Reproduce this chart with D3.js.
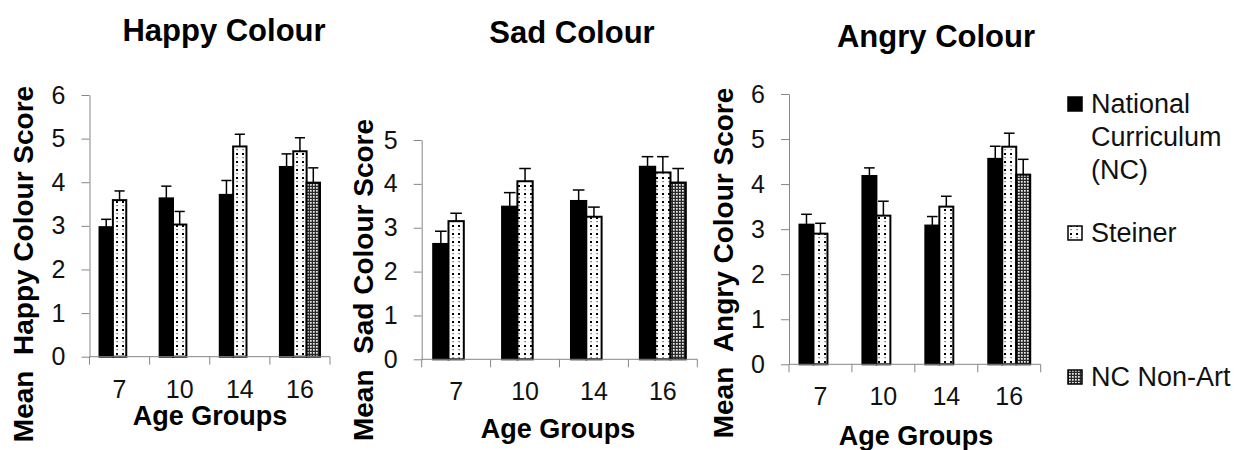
<!DOCTYPE html>
<html>
<head>
<meta charset="utf-8">
<script src="https://cdn.jsdelivr.net/npm/d3@7"></script>
<style>
  html, body { margin: 0; padding: 0; background: #fff; }
  svg { display: block; font-family: "Liberation Sans", Arial, sans-serif; }
</style>
</head>
<body>
<svg id="chart" width="1238" height="450"></svg>
<script>
// Age groups on the x axis and the three school groups
const ageGroups = ["7", "10", "14", "16"];
const seriesKeys = ["nc", "steiner", "nonart"];
const legendLabels = [["National", "Curriculum", "(NC)"], ["Steiner"], ["NC Non-Art"]];

// Happy colour: means and standard errors
const happyNC = [2.97, 3.63, 3.71, 4.35];
const happyNCErr = [0.18, 0.28, 0.33, 0.30];
const happySteiner = [3.59, 3.03, 4.82, 4.71];
const happySteinerErr = [0.21, 0.30, 0.28, 0.31];
const happyNonArt = [null, null, null, 3.99];
const happyNonArtErr = [null, null, null, 0.34];

// Sad colour
const sadNC = [2.63, 3.48, 3.61, 4.39];
const sadNCErr = [0.29, 0.32, 0.25, 0.23];
const sadSteiner = [3.15, 4.06, 3.25, 4.26];
const sadSteinerErr = [0.18, 0.29, 0.22, 0.36];
const sadNonArt = [null, null, null, 4.03];
const sadNonArtErr = [null, null, null, 0.32];

// Angry colour
const angryNC = [3.10, 4.18, 3.08, 4.56];
const angryNCErr = [0.23, 0.18, 0.20, 0.28];
const angrySteiner = [2.90, 3.30, 3.50, 4.83];
const angrySteinerErr = [0.23, 0.32, 0.23, 0.30];
const angryNonArt = [null, null, null, 4.21];
const angryNonArtErr = [null, null, null, 0.34];

// Y axis tick labels per panel
const happyTicks = [0, 1, 2, 3, 4, 5, 6];
const sadTicks = [0, 1, 2, 3, 4, 5];
const angryTicks = [0, 1, 2, 3, 4, 5, 6];

const svg = d3.select("#chart");
const defs = svg.append("defs");

// Sparse dot fill for Steiner bars
const dots = defs.append("pattern").attr("id", "dots")
  .attr("patternUnits", "userSpaceOnUse").attr("width", 6).attr("height", 8);
dots.append("rect").attr("width", 6).attr("height", 8).attr("fill", "#fff");
dots.append("rect").attr("x", 2).attr("y", 1).attr("width", 2).attr("height", 2).attr("fill", "#000");
dots.append("rect").attr("x", 2.5).attr("y", 5).attr("width", 1.2).attr("height", 1.2).attr("fill", "#444");

// Fine mesh fill for NC Non-Art bars
const mesh = defs.append("pattern").attr("id", "mesh")
  .attr("patternUnits", "userSpaceOnUse").attr("width", 3).attr("height", 3);
mesh.append("rect").attr("width", 3).attr("height", 3).attr("fill", "#2a2a2a");
mesh.append("rect").attr("x", 1).attr("y", 1).attr("width", 1.7).attr("height", 1.7).attr("fill", "#eee");

const fills = { nc: "#000", steiner: "url(#dots)", nonart: "url(#mesh)" };
const axisGrey = "#868686";

function drawPanel(p) {
  const g = svg.append("g");
  const x = d3.scaleBand().domain(ageGroups).range([p.left, p.right]).paddingInner(0).paddingOuter(0);
  const xs = d3.scaleBand().domain(seriesKeys).range([0, x.bandwidth()]).paddingInner(0).paddingOuter(0.75);
  const y = d3.scaleLinear().domain([0, p.max]).range([p.bottom, p.top]);

  const rows = [];
  ageGroups.forEach((a, i) => {
    seriesKeys.forEach((k, j) => {
      const v = p.values[j][i];
      if (v != null) rows.push({ age: a, key: k, v: v, e: p.errors[j][i] });
    });
  });

  // Error bars (upper only) drawn beneath the bar outlines
  const eb = g.append("g").attr("stroke", "#000").attr("stroke-width", 1.5).attr("fill", "none");
  rows.forEach(d => {
    const cx = x(d.age) + xs(d.key) + xs.bandwidth() / 2;
    const half = xs.bandwidth() * 0.38;
    eb.append("line").attr("x1", cx).attr("x2", cx).attr("y1", y(d.v)).attr("y2", y(d.v + d.e));
    eb.append("line").attr("x1", cx - half).attr("x2", cx + half).attr("y1", y(d.v + d.e)).attr("y2", y(d.v + d.e));
  });

  g.append("g").selectAll("rect").data(rows).join("rect")
    .attr("x", d => x(d.age) + xs(d.key))
    .attr("y", d => y(d.v))
    .attr("width", xs.bandwidth())
    .attr("height", d => y(0) - y(d.v))
    .attr("fill", d => fills[d.key])
    .attr("stroke", "#000")
    .attr("stroke-width", 2);

  // Y axis
  const ya = g.append("g").attr("transform", `translate(${p.left},0)`)
    .call(d3.axisLeft(y).tickValues(p.ticks).tickFormat(d3.format("d")).tickSizeInner(8).tickSizeOuter(0).tickPadding(16));
  ya.selectAll("path, line").attr("stroke", axisGrey);
  ya.selectAll("text").attr("font-size", 25).attr("fill", "#111").attr("font-family", "Liberation Sans, Arial, sans-serif");

  // X axis: ticks at band boundaries, labels centred in each band
  const boundaries = ageGroups.map(a => x(a)).concat([p.right]);
  const xa = g.append("g");
  xa.append("line").attr("x1", p.left).attr("x2", p.right).attr("y1", y(0)).attr("y2", y(0)).attr("stroke", axisGrey);
  xa.selectAll("line.tick").data(boundaries).join("line").attr("class", "tick")
    .attr("x1", d => d).attr("x2", d => d).attr("y1", y(0)).attr("y2", y(0) + 8).attr("stroke", axisGrey);
  xa.selectAll("text").data(ageGroups).join("text")
    .attr("x", d => x(d) + x.bandwidth() / 2).attr("y", y(0) + 41)
    .attr("text-anchor", "middle").attr("font-size", 25).attr("fill", "#111").text(d => d);

  // Titles
  g.append("text").attr("x", p.titleX).attr("y", p.titleY).attr("text-anchor", "middle")
    .attr("font-size", 31).attr("font-weight", "bold").text(p.title);
  g.append("text").attr("x", p.xLabelX).attr("y", p.xLabelY).attr("text-anchor", "middle")
    .attr("font-size", 27).attr("font-weight", "bold").text("Age Groups");
  g.append("text").attr("transform", `translate(${p.yLabelX},${p.yLabelY}) rotate(-90)`)
    .attr("text-anchor", "middle").attr("font-size", 28).attr("font-weight", "bold")
    .attr("xml:space", "preserve").style("white-space", "pre").text(p.yLabel);
}

drawPanel({
  title: "Happy Colour", titleX: 224, titleY: 41,
  yLabel: "Mean  Happy Colour Score", yLabelX: 33, yLabelY: 264,
  xLabelX: 210, xLabelY: 425,
  left: 89.5, right: 330, top: 95, bottom: 356.7, max: 6, ticks: happyTicks,
  values: [happyNC, happySteiner, happyNonArt],
  errors: [happyNCErr, happySteinerErr, happyNonArtErr]
});

drawPanel({
  title: "Sad Colour", titleX: 572, titleY: 43,
  yLabel: "Mean  Sad Colour Score", yLabelX: 373, yLabelY: 280,
  xLabelX: 558, xLabelY: 438,
  left: 421.7, right: 697.3, top: 140, bottom: 359.3, max: 5, ticks: sadTicks,
  values: [sadNC, sadSteiner, sadNonArt],
  errors: [sadNCErr, sadSteinerErr, sadNonArtErr]
});

drawPanel({
  title: "Angry Colour", titleX: 936, titleY: 47,
  yLabel: "Mean  Angry Colour Score", yLabelX: 733, yLabelY: 263,
  xLabelX: 916, xLabelY: 445,
  left: 789, right: 1040.7, top: 94, bottom: 364.3, max: 6, ticks: angryTicks,
  values: [angryNC, angrySteiner, angryNonArt],
  errors: [angryNCErr, angrySteinerErr, angryNonArtErr]
});

// Legend
const legendRowY = [104, 233, 377];
const legend = svg.append("g");
seriesKeys.forEach((k, i) => {
  legend.append("rect").attr("x", 1068).attr("y", legendRowY[i] - 7).attr("width", 14).attr("height", 14)
    .attr("fill", fills[k]).attr("stroke", "#000").attr("stroke-width", 1.5);
  const t = legend.append("text").attr("x", 1091).attr("y", legendRowY[i] + 9)
    .attr("font-size", 27).attr("fill", "#111");
  legendLabels[i].forEach((line, li) => {
    t.append("tspan").attr("x", 1091).attr("dy", li === 0 ? 0 : 33).text(line);
  });
});
</script>
</body>
</html>
